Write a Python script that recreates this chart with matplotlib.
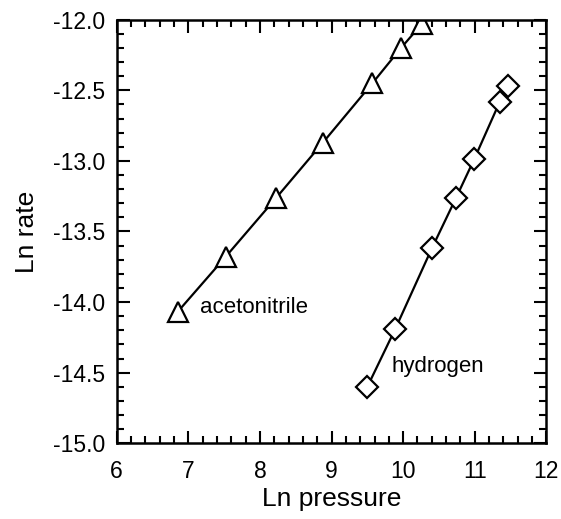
"""Ln rate vs Ln pressure for acetonitrile and hydrogen."""
import matplotlib
matplotlib.use("Agg")
import matplotlib.pyplot as plt
from matplotlib.ticker import MultipleLocator, FormatStrFormatter

plt.rcParams["font.family"] = ["Liberation Sans", "DejaVu Sans"]

# acetonitrile (triangles)
acn_lnp = [6.85, 7.52, 8.23, 8.88, 9.57, 9.97, 10.26]
acn_lnr = [-14.07, -13.68, -13.26, -12.87, -12.45, -12.20, -12.03]

# hydrogen (diamonds)
h2_lnp = [9.50, 9.89, 10.40, 10.74, 10.99, 11.35, 11.47]
h2_lnr = [-14.60, -14.19, -13.62, -13.26, -12.99, -12.58, -12.47]

XLIM = (6, 12)
YLIM = (-15.0, -12.0)


def main() -> None:
    fig = plt.figure(figsize=(5.61, 5.19), dpi=100)
    ax = fig.add_axes([0.208, 0.146, 0.766, 0.816])

    ax.plot(acn_lnp, acn_lnr, color="black", lw=1.6, marker="^", ms=15,
            mfc="white", mec="black", mew=1.6)
    ax.plot(h2_lnp, h2_lnr, color="black", lw=1.6, marker="D", ms=11,
            mfc="white", mec="black", mew=1.6)

    ax.text(7.17, -14.04, "acetonitrile", fontsize=16, va="center", ha="left")
    ax.text(9.84, -14.46, "hydrogen", fontsize=16, va="center", ha="left")

    ax.set_xlim(*XLIM); ax.set_ylim(*YLIM)
    ax.xaxis.set_major_locator(MultipleLocator(1))
    ax.xaxis.set_minor_locator(MultipleLocator(0.2))
    ax.yaxis.set_major_locator(MultipleLocator(0.5))
    ax.yaxis.set_minor_locator(MultipleLocator(0.1))
    ax.yaxis.set_major_formatter(FormatStrFormatter("%.1f"))
    ax.tick_params(which="both", direction="in", top=True, right=True,
                   width=1.5, labelsize=16.5)
    ax.tick_params(which="major", length=9)
    ax.tick_params(axis="x", which="major", pad=12)
    ax.tick_params(axis="y", which="major", pad=8)
    ax.tick_params(which="minor", length=5)
    for s in ax.spines.values():
        s.set_linewidth(1.8)

    ax.set_xlabel("Ln pressure", fontsize=19, labelpad=3)
    ax.set_ylabel("Ln rate", fontsize=19, labelpad=10)

    fig.savefig("out.png", dpi=100)
    plt.close(fig)


if __name__ == "__main__":
    main()
